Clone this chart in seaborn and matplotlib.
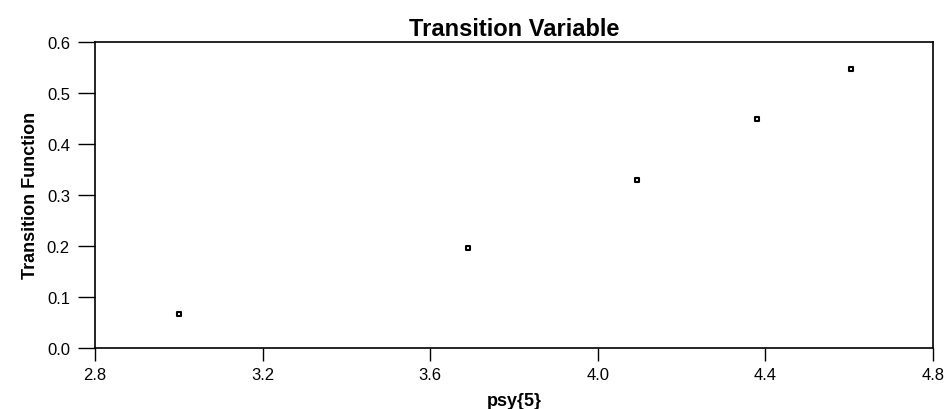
import numpy as np
import pandas as pd
import matplotlib
matplotlib.use("Agg")
import matplotlib.pyplot as plt
import seaborn as sns

# values
psy5 = [3.00, 3.69, 4.094, 4.38, 4.604]
transition = [0.066, 0.195, 0.328, 0.448, 0.546]
x_ticks = [2.8, 3.2, 3.6, 4.0, 4.4, 4.8]
y_ticks = [0.0, 0.1, 0.2, 0.3, 0.4, 0.5, 0.6]

sns.set_style("ticks")
plt.rcParams["font.family"] = ["Liberation Sans", "DejaVu Sans"]
plt.rcParams["text.color"] = "black"
plt.rcParams["axes.labelcolor"] = "black"
plt.rcParams["xtick.color"] = "black"
plt.rcParams["ytick.color"] = "black"

df = pd.DataFrame({"psy{5}": psy5, "Transition Function": transition})

fig = plt.figure(figsize=(9.47, 4.10), dpi=100)
ax = fig.add_axes([0.1003, 0.1488, 0.8849, 0.7475])
sns.scatterplot(data=df, x="psy{5}", y="Transition Function", ax=ax,
                marker="s", s=8, facecolor="white", edgecolor="black",
                linewidth=1.5)

ax.set_xlim(2.8, 4.8)
ax.set_ylim(0.0, 0.6)
ax.set_xticks(x_ticks)
ax.set_yticks(y_ticks)
ax.set_xticklabels([f"{v:.1f}" for v in x_ticks], fontsize=12)
ax.set_yticklabels([f"{v:.1f}" for v in y_ticks], fontsize=12)
ax.tick_params(axis="x", direction="out", length=9, width=1, pad=5)
ax.tick_params(axis="y", direction="out", length=12, width=1, pad=6)
for sp in ax.spines.values():
    sp.set_visible(True)
    sp.set_linewidth(1.2)
    sp.set_color("black")

ax.set_title("Transition Variable", fontsize=17, fontweight="bold", pad=5)
ax.set_xlabel("psy{5}", fontsize=13, fontweight="bold", labelpad=7)
ax.set_ylabel("Transition Function", fontsize=13, fontweight="bold",
              labelpad=6)

fig.savefig("out.png", dpi=100)
